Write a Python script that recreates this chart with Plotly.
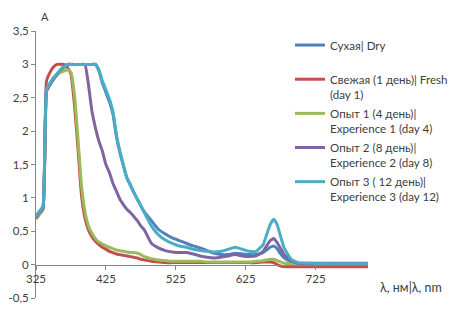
import plotly.graph_objects as go

wavelength = [325, 330, 335, 340, 345, 350, 355, 360, 365, 370,
              375, 380, 385, 390, 395, 400, 405, 410, 415, 420,
              425, 430, 435, 440, 445, 450, 455, 460, 465, 470,
              475, 480, 490, 500, 510, 520, 530, 540, 550, 560,
              570, 580, 590, 600, 610, 620, 630, 640, 650, 655,
              660, 665, 670, 675, 680, 690, 700, 720, 750, 800]

dry = [0.72, 0.80, 0.86, 2.60, 2.70, 2.78, 2.84, 2.90, 2.95, 2.99,
       3.0, 3.0, 3.0, 3.0, 3.0, 3.0, 3.0, 3.0, 2.90, 2.72,
       2.58, 2.44, 2.26, 1.92, 1.68, 1.48, 1.30, 1.19, 1.08, 0.98,
       0.88, 0.79, 0.66, 0.53, 0.46, 0.40, 0.36, 0.32, 0.28, 0.25,
       0.21, 0.17, 0.15, 0.15, 0.17, 0.16, 0.15, 0.15, 0.18, 0.22,
       0.26, 0.28, 0.24, 0.16, 0.10, 0.04, 0.02, 0.02, 0.02, 0.02]

fresh = [0.70, 0.78, 0.85, 2.75, 2.88, 2.96, 3.0, 3.0, 3.0, 2.95,
         2.85, 2.40, 1.75, 1.05, 0.70, 0.52, 0.42, 0.35, 0.30, 0.26,
         0.23, 0.20, 0.18, 0.16, 0.15, 0.14, 0.13, 0.12, 0.11, 0.10,
         0.08, 0.07, 0.05, 0.04, 0.03, 0.03, 0.03, 0.03, 0.03, 0.03,
         0.03, 0.03, 0.03, 0.03, 0.03, 0.03, 0.03, 0.03, 0.04, 0.04,
         0.04, 0.03, 0.00, -0.02, -0.03, -0.03, -0.03, -0.03, -0.03, -0.03]

exp1 = [0.68, 0.75, 0.82, 2.60, 2.70, 2.78, 2.84, 2.88, 2.90, 2.92,
        2.88, 2.55, 1.90, 1.20, 0.80, 0.58, 0.47, 0.39, 0.34, 0.31,
        0.28, 0.26, 0.24, 0.22, 0.21, 0.20, 0.19, 0.18, 0.18, 0.17,
        0.15, 0.12, 0.09, 0.07, 0.06, 0.05, 0.05, 0.05, 0.05, 0.05,
        0.04, 0.04, 0.04, 0.04, 0.04, 0.04, 0.04, 0.05, 0.06, 0.07,
        0.08, 0.08, 0.06, 0.04, 0.02, 0.01, 0.01, 0.01, 0.01, 0.01]

exp2 = [0.70, 0.78, 0.84, 2.60, 2.70, 2.78, 2.85, 2.92, 2.97, 3.0,
        3.0, 3.0, 3.0, 3.0, 3.0, 2.70, 2.30, 2.05, 1.85, 1.70,
        1.50, 1.38, 1.22, 1.10, 0.98, 0.90, 0.83, 0.78, 0.72, 0.66,
        0.58, 0.52, 0.32, 0.25, 0.21, 0.19, 0.18, 0.18, 0.16, 0.13,
        0.11, 0.10, 0.11, 0.13, 0.15, 0.13, 0.12, 0.13, 0.20, 0.28,
        0.36, 0.39, 0.33, 0.24, 0.15, 0.06, 0.02, 0.01, 0.01, 0.01]

exp3 = [0.72, 0.80, 0.87, 2.62, 2.72, 2.80, 2.86, 2.92, 2.96, 3.0,
        3.0, 3.0, 3.0, 3.0, 3.0, 3.0, 3.0, 3.0, 2.92, 2.75,
        2.62, 2.48, 2.30, 1.95, 1.70, 1.50, 1.30, 1.20, 1.08, 0.98,
        0.88, 0.78, 0.58, 0.45, 0.37, 0.32, 0.28, 0.26, 0.23, 0.21,
        0.20, 0.19, 0.20, 0.23, 0.26, 0.23, 0.20, 0.20, 0.30, 0.45,
        0.60, 0.68, 0.60, 0.42, 0.25, 0.08, 0.03, 0.02, 0.01, 0.01]

series_names = ["Сухая| Dry<br> ",
                "Свежая (1 день)| Fresh<br>(day 1)",
                "Опыт 1 (4 день)|<br>Experience 1 (day 4)",
                "Опыт 2 (8 день)|<br>Experience 2 (day 8)",
                "Опыт 3 ( 12 день)|<br>Experience 3 (day 12)"]
series_values = [dry, fresh, exp1, exp2, exp3]
colors = ["#4F81BD", "#C0504D", "#9BBB59", "#8064A2", "#4BACC6"]

y_ticks = [-0.5, 0, 0.5, 1, 1.5, 2, 2.5, 3, 3.5]
y_ticktext = ["-0,5", "0", "0,5", "1", "1,5", "2", "2,5", "3", "3,5"]
x_ticks = [325, 425, 525, 625, 725]

fig = go.Figure()
for i, (name, vals, col) in enumerate(zip(series_names, series_values, colors)):
    fig.add_trace(go.Scatter(
        x=wavelength, y=vals, mode="lines", name=name,
        legendgroup=f"g{i}",
        line=dict(color=col, width=3, shape="spline", smoothing=0.4),
    ))

# page body has an 8px default margin, so the figure is sized/offset to fit
fig.update_layout(
    width=458, height=304,
    margin=dict(l=28, r=98, t=23, b=14, autoexpand=False),
    paper_bgcolor="white", plot_bgcolor="white",
    font=dict(family="Lato, 'Open Sans', sans-serif", size=11, color="#404040"),
    showlegend=True,
    legend=dict(x=0.765, y=1.0, xanchor="left", yanchor="top",
                valign="top", tracegroupgap=1,
                font=dict(size=11.6, color="#404040"),
                bgcolor="rgba(0,0,0,0)"),
    xaxis=dict(range=[325, 800], tickvals=x_ticks, showgrid=False, zeroline=False,
               showline=True, linecolor="#868686", linewidth=1,
               ticks="outside", ticklen=4, tickcolor="#868686",
               anchor="free", position=0.125, automargin=False,
               tickfont=dict(size=11.5, color="#404040")),
    yaxis=dict(range=[-0.5, 3.5], domain=[0, 1], tickvals=y_ticks, ticktext=y_ticktext,
               showgrid=False, zeroline=False, showline=True, linecolor="#868686",
               linewidth=1, ticks="outside", ticklen=4, tickcolor="#868686",
               automargin=False,
               tickfont=dict(size=11.5, color="#404040")),
    annotations=[
        dict(text="A", x=0.027, y=1.086, xref="paper", yref="paper",
             showarrow=False, xanchor="center", yanchor="top",
             font=dict(size=11, color="#404040")),
        dict(text="λ, нм|λ, nm", x=1.03, y=0.041, xref="paper", yref="paper",
             showarrow=False, xanchor="left", yanchor="middle",
             font=dict(size=12.5, color="#404040")),
    ],
)

fig.write_html("out.html")
